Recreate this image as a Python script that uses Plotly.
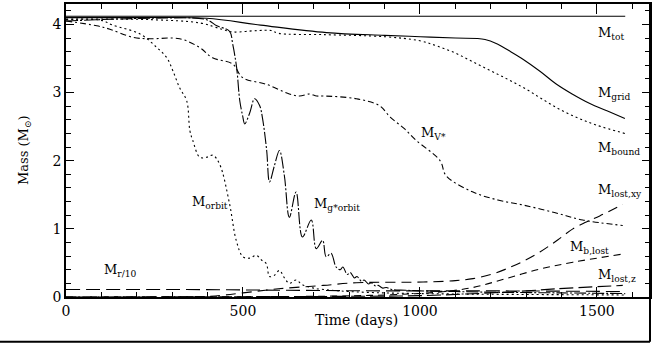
import plotly.graph_objects as go

# Mass curves (days, solar masses)
t_tot = [0, 1580]
m_tot = [4.12, 4.12]

t_grid = [0, 200, 397, 550, 736, 900, 1001, 1100, 1184, 1220, 1250, 1291, 1340, 1384, 1430, 1480, 1530, 1579]
m_grid = [4.10, 4.10, 4.09, 3.99, 3.88, 3.84, 3.82, 3.80, 3.78, 3.71, 3.62, 3.49, 3.31, 3.13, 2.98, 2.84, 2.73, 2.62]

t_bound = [0, 240, 380, 440, 470, 540, 580, 600, 730, 900, 1000, 1050, 1100, 1150, 1200, 1250, 1300, 1350, 1400, 1450, 1500, 1579]
m_bound = [4.08, 4.07, 4.02, 3.93, 3.89, 3.91, 3.91, 3.87, 3.85, 3.82, 3.76, 3.68, 3.58, 3.45, 3.32, 3.19, 3.05, 2.89, 2.74, 2.62, 2.52, 2.40]

t_vstar = [0, 87, 124, 189, 237, 321, 378, 414, 471, 499, 567, 631, 660, 688, 708, 727, 820, 885, 916, 956, 989, 1057, 1074, 1150, 1223, 1291, 1380, 1460, 1573]
m_vstar = [4.05, 3.98, 3.93, 3.81, 3.79, 3.79, 3.66, 3.51, 3.42, 3.22, 3.12, 2.98, 2.95, 2.98, 2.95, 2.95, 2.91, 2.81, 2.64, 2.47, 2.30, 2.00, 1.78, 1.54, 1.42, 1.35, 1.24, 1.13, 1.05]

t_gorb = [0, 237, 397, 426, 462, 471, 482, 491, 499, 505, 519, 533, 547, 555, 567, 575, 589, 603, 617, 631, 650, 668, 693,
          707, 725, 735, 749, 763, 775, 782, 795, 803, 815, 822, 835, 842, 855, 862, 875, 882, 895, 905, 920, 960, 1000, 1100,
          1200, 1400, 1580]
m_gorb = [4.05, 4.09, 4.07, 3.98, 3.90, 3.71, 3.37, 2.88, 2.66, 2.54, 2.70, 2.91, 2.81, 2.63, 2.15, 1.69, 1.93, 2.15, 1.78,
          1.17, 1.54, 0.88, 1.13, 0.71, 0.83, 0.59, 0.64, 0.44, 0.40, 0.44, 0.33, 0.36, 0.28, 0.30, 0.23, 0.25, 0.19, 0.21,
          0.16, 0.17, 0.13, 0.14, 0.11, 0.10, 0.09, 0.08, 0.07, 0.06, 0.05]

t_orbit = [0, 100, 132, 209, 257, 285, 302, 321, 341, 350, 358, 378, 397, 415, 434, 462, 481, 500, 519, 538, 553, 566, 575,
           589, 603, 617, 631, 650, 668, 700, 750, 800, 900, 1000, 1200, 1580]
m_orbit = [4.07, 4.06, 3.99, 3.86, 3.66, 3.51, 3.32, 3.07, 2.88, 2.44, 2.30, 2.05, 2.05, 2.08, 1.95, 1.37, 0.83, 0.59, 0.57,
           0.61, 0.54, 0.49, 0.30, 0.32, 0.39, 0.28, 0.20, 0.25, 0.18, 0.13, 0.10, 0.08, 0.06, 0.05, 0.04, 0.03]

t_r10 = [0, 300, 600, 900, 1200, 1580]
m_r10 = [0.11, 0.11, 0.10, 0.09, 0.09, 0.08]

t_lxy = [0, 400, 450, 500, 600, 727, 820, 1009, 1100, 1150, 1200, 1243, 1290, 1339, 1390, 1432, 1470, 1508, 1573]
m_lxy = [0.0, 0.01, 0.03, 0.06, 0.12, 0.17, 0.21, 0.22, 0.24, 0.27, 0.33, 0.41, 0.52, 0.66, 0.84, 1.00, 1.10, 1.19, 1.36]

t_blost = [0, 700, 900, 1050, 1150, 1243, 1339, 1432, 1573]
m_blost = [0.0, 0.01, 0.03, 0.07, 0.14, 0.27, 0.41, 0.51, 0.63]

t_lz = [0, 800, 1000, 1200, 1300, 1384, 1573]
m_lz = [0.0, 0.01, 0.02, 0.06, 0.09, 0.12, 0.17]

series = [
    (t_tot, m_tot, "solid"),
    (t_grid, m_grid, "solid"),
    (t_bound, m_bound, "2px,3px"),
    (t_vstar, m_vstar, "6px,3px,2px,3px"),
    (t_gorb, m_gorb, "12px,2px,2px,2px"),
    (t_orbit, m_orbit, "2px,3px"),
    (t_r10, m_r10, "14px,6px"),
    (t_lxy, m_lxy, "10px,6px"),
    (t_blost, m_blost, "7px,5px"),
    (t_lz, m_lz, "14px,5px"),
]

# label text and anchor point (days, mass)
labels = [
    ("M<sub>tot</sub>", 1497, 3.87),
    ("M<sub>grid</sub>", 1497, 2.98),
    ("M<sub>bound</sub>", 1497, 2.18),
    ("M<sub>lost,xy</sub>", 1497, 1.56),
    ("M<sub>b,lost</sub>", 1418, 0.72),
    ("M<sub>lost,z</sub>", 1497, 0.32),
    ("M<sub>V*</sub>", 998, 2.40),
    ("M<sub>orbit</sub>", 350, 1.39),
    ("M<sub>g*orbit</sub>", 696, 1.36),
    ("M<sub>r/10</sub>", 101, 0.39),
]

fig = go.Figure()
for t, m, dash in series:
    fig.add_trace(go.Scatter(x=t, y=m, mode="lines", line_shape="spline",
                             line=dict(color="black", width=1.1, dash=dash),
                             showlegend=False, hoverinfo="skip"))

for txt, x, y in labels:
    fig.add_annotation(x=x, y=y, text=txt, showarrow=False, xanchor="left", yanchor="middle",
                       font=dict(family="DejaVu Serif", size=13, color="black"))

fig.add_annotation(x=0.498, y=-0.112, xref="paper", yref="paper", text="Time (days)", showarrow=False,
                   font=dict(family="DejaVu Serif", size=14, color="black"))
fig.add_annotation(x=-0.089, y=0.5, xref="paper", yref="paper", text="Mass (M<sub>⊙</sub>)", showarrow=False,
                   textangle=-90, font=dict(family="DejaVu Serif", size=13, color="black"))

# scan border at the bottom and right of the image
fig.add_shape(type="line", xref="paper", yref="paper", x0=-0.12, x1=1.0, y0=-0.153, y1=-0.153,
              line=dict(color="black", width=2))
fig.add_shape(type="line", xref="paper", yref="paper", x0=1.0, x1=1.0, y0=-0.153, y1=1.0,
              line=dict(color="black", width=2))

axis = dict(showline=True, linecolor="black", linewidth=1.5, mirror="ticks", ticks="inside",
            tickcolor="black", showgrid=False, zeroline=False,
            tickfont=dict(family="DejaVu Serif", size=14, color="black"))
fig.update_xaxes(range=[0, 1650], tickvals=[0, 500, 1000, 1500], ticklen=10, tickwidth=1.2,
                 minor=dict(dtick=100, ticks="inside", ticklen=5, tickcolor="black", tickwidth=1), **axis)
fig.update_yaxes(range=[0, 4.3], tickvals=[0, 1, 2, 3, 4], ticklen=8, tickwidth=1.2,
                 minor=dict(dtick=0.2, ticks="inside", ticklen=5, tickcolor="black", tickwidth=1), **axis)

fig.update_layout(width=654, height=344, margin=dict(l=66, r=2, t=3, b=47),
                  plot_bgcolor="white", paper_bgcolor="white")

fig.write_html("out.html", config={"displayModeBar": False},
               post_script="document.body.style.margin='0';")
